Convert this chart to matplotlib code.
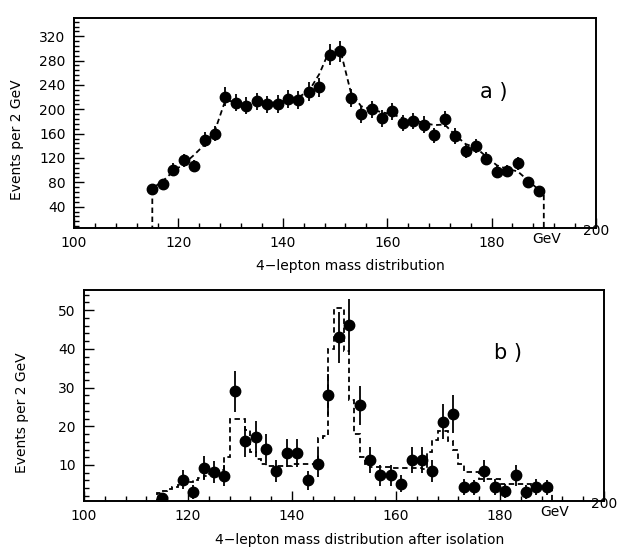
import numpy as np
import matplotlib
matplotlib.use("Agg")
import matplotlib.pyplot as plt
from matplotlib.ticker import MultipleLocator

# ---------------- data ----------------
# panel a: 2 GeV bins, centres 115..189
mass_a = np.arange(115, 190, 2)
events_a = [69, 77, 101, 116, 107, 150, 160, 221, 211, 206, 213, 208, 209, 217, 215, 229, 236,
            290, 295, 218, 192, 200, 185, 197, 178, 181, 175, 157, 184, 156, 132, 140, 119,
            97, 98, 111, 80, 66]
model_a = [70, 82, 98, 110, 125, 142, 165, 215, 212, 210, 210, 210, 212, 215, 220, 230, 258,
           298, 298, 229, 205, 200, 195, 192, 185, 182, 178, 174, 175, 158, 143, 137, 122,
           108, 102, 98, 83, 68]

# panel b: after isolation (no entry at 117)
mass_b = [115, 119, 121, 123, 125, 127, 129, 131, 133, 135, 137, 139, 141, 143, 145, 147, 149,
          151, 153, 155, 157, 159, 161, 163, 165, 167, 169, 171, 173, 175, 177, 179, 181, 183,
          185, 187, 189]
events_b = [1.5, 6.2, 3.0, 9.2, 8.1, 7.2, 29, 16.1, 17.3, 14.2, 8.4, 13.2, 13.1, 6.1, 10.2, 28.2,
            43, 46.1, 25.4, 11.4, 7.4, 7.3, 5.2, 11.3, 11.3, 8.4, 21.2, 23.2, 4.3, 4.2, 8.5, 4.3,
            3.2, 7.3, 3.0, 4.3, 4.2]
# expectation in 1 GeV bins, 114..190
edges_b = np.arange(114, 191, 1)
model_b = [2.8, 3.3, 3.8, 4.3, 4.8, 5.2, 5.7, 6.2, 6.7, 7.2, 7.7, 8.2, 8.8, 12.0, 22.0, 22.0,
           21.8, 19.0, 13.3, 11.5, 10.2, 9.8, 9.8, 9.8, 9.8, 9.8, 10.2, 10.2, 10.2, 10.2, 10.3,
           17.0, 17.4, 40.0, 50.5, 50.5, 39.4, 26.7, 18.0, 12.0, 10.3, 9.6, 9.5, 9.4, 9.4, 9.3,
           9.3, 9.2, 9.2, 9.1, 9.1, 9.0, 13.3, 16.5, 18.9, 18.9, 16.2, 13.9, 10.3, 8.3, 8.3, 8.3,
           6.5, 6.5, 6.5, 6.5, 5.2, 5.1, 5.1, 5.0, 5.0, 5.0, 4.9, 4.9, 4.8, 4.8]

xticks = [100, 120, 140, 160, 180]

# ---------------- style ----------------
plt.rcParams['font.family'] = ['DejaVu Sans']
plt.rcParams['font.size'] = 10
W, H = 617, 551
DASH = (3, 2)


def style_axes(ax, ymin, ymax, ymajor, yminor, xlabel, ylab_x):
    ax.set_xlim(100, 200)
    ax.set_ylim(ymin, ymax)
    ax.xaxis.set_minor_locator(MultipleLocator(4))
    ax.yaxis.set_major_locator(MultipleLocator(ymajor))
    ax.yaxis.set_minor_locator(MultipleLocator(yminor))
    ax.set_xticks(xticks + [200])
    ax.set_xticklabels([str(t) for t in xticks] + [""])
    ax.tick_params(which='both', direction='in', top=False, right=False, width=1)
    ax.tick_params(which='major', length=7, labelsize=10, pad=6)
    ax.tick_params(which='minor', length=3.5)
    for s in ax.spines.values():
        s.set_linewidth(1.4)
    ax.set_xlabel(xlabel, fontsize=10)
    ax.xaxis.set_label_coords(0.53, -0.15)
    ax.set_ylabel("Events per 2 GeV", fontsize=10)
    ax.yaxis.set_label_coords(ylab_x, 0.42)
    # the 200 label sits a little higher than the others
    ax.text(200, 0.02, "200", transform=ax.get_xaxis_transform(), ha='center', va='top',
            fontsize=10)
    ax.text(0.905, -0.02, "GeV", transform=ax.transAxes, ha='center', va='top', fontsize=10)


fig = plt.figure(figsize=(W / 100, H / 100), dpi=100)

# ---- panel a ----
axA = fig.add_axes([74 / W, 1 - 228 / H, 522 / W, 210 / H])
xs = np.r_[mass_a[0], mass_a, 190, 190]
ys = np.r_[0, model_a, model_a[-1], 0]
axA.plot(xs, ys, color='black', lw=1.3, dashes=DASH)
axA.errorbar(mass_a, events_a, yerr=np.sqrt(events_a), fmt='o', color='black', ms=7.5,
             elinewidth=1.3, capsize=0)
style_axes(axA, 5, 350, 40, 8, "4\u2212lepton mass distribution", -0.095)
axA.text(180.5, 228, "a )", fontsize=15, ha='center', va='center')

# ---- panel b ----
axB = fig.add_axes([84 / W, 1 - 501 / H, 520 / W, 211 / H])
axB.stairs(model_b, edges_b, baseline=0, color='black', lw=1.3, linestyle=(0, DASH))
axB.errorbar(mass_b, events_b, yerr=np.sqrt(events_b), fmt='o', color='black', ms=7.5,
             elinewidth=1.3, capsize=0)
style_axes(axB, 0.7, 55.2, 10, 2, "4\u2212lepton mass distribution after isolation", -0.105)
axB.text(181.5, 39, "b )", fontsize=15, ha='center', va='center')

fig.savefig("out.png", dpi=100)
